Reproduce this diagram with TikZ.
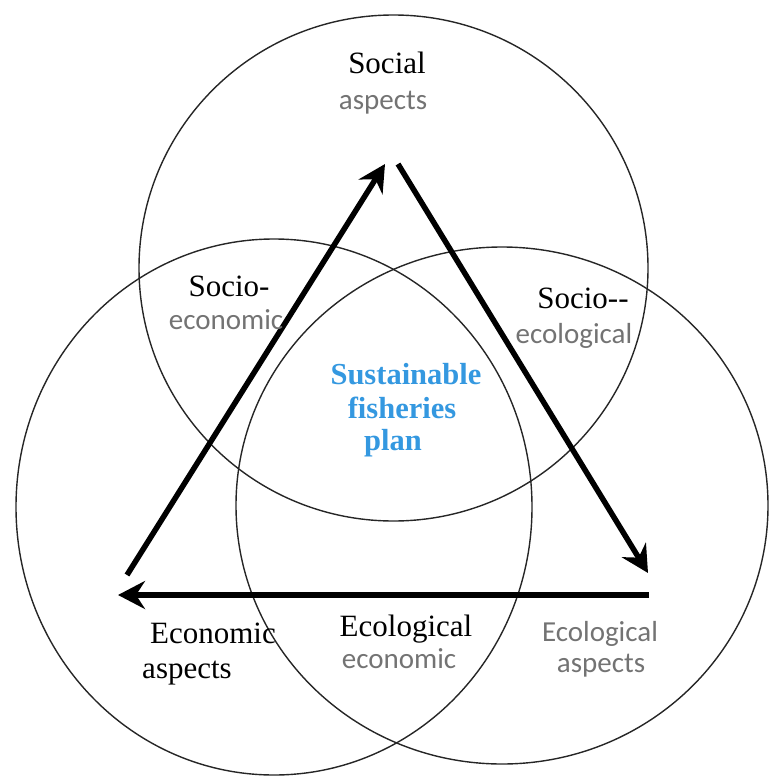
\documentclass[tikz,border=0pt]{standalone}
\usepackage{fontspec}
\setmainfont{Liberation Serif}
\newfontfamily\greyfont{Carlito}
\usetikzlibrary{arrows.meta}
\definecolor{planblue}{RGB}{52,152,224}
\definecolor{labelgrey}{RGB}{115,115,115}
\tikzset{
  ring/.style={draw=black!85, line width=1.4pt},
  flow/.style={line width=5.5pt, -{Stealth[length=27pt,width=28pt,inset=9pt]}},
  mainlabel/.style={anchor=base, inner sep=0pt, font=\fontsize{31}{36}\selectfont},
  sublabel/.style={anchor=base, inner sep=0pt, text=labelgrey, font=\greyfont\fontsize{29}{34}\selectfont},
  planlabel/.style={anchor=base, inner sep=0pt, text=planblue, font=\bfseries\fontsize{30.5}{35}\selectfont}
}
\begin{document}
\begin{tikzpicture}[x=1pt,y=-1pt]
  \useasboundingbox (0,0) rectangle (769,776);
  % the three aspects
  \path[ring] (393.5,268) ellipse [x radius=254.5, y radius=253];
  \path[ring] (274,507) ellipse [x radius=258, y radius=268];
  \path[ring] (502,505.5) ellipse [x radius=266, y radius=258.5];

  % corners of the triangle
  \coordinate (econStart) at (127,575);
  \coordinate (socialIn) at (385,164);
  \coordinate (socialOut) at (398,164);
  \coordinate (ecolIn) at (648,573);
  \coordinate (ecolOut) at (649,595);
  \coordinate (econIn) at (118,595);

  \draw[flow] (econStart) -- (socialIn);
  \draw[flow] (socialOut) -- (ecolIn);
  \draw[flow] (ecolOut) -- (econIn);

  % labels
  \path (387,74) node[mainlabel] (social) {Social};
  \path (383,109) node[sublabel] (socialAsp) {aspects};
  \path (229,296) node[mainlabel] (socioEcon) {Socio-};
  \path (226,329) node[sublabel] (socioEconB) {economic};
  \path (583,308) node[mainlabel] (socioEcol) {Socio-{}-};
  \path (574,343) node[sublabel] (socioEcolB) {ecological};
  \path (406,384) node[planlabel] (planA) {Sustainable};
  \path (402,418) node[planlabel] (planB) {fisheries};
  \path (393,450) node[planlabel] (planC) {plan};
  \path (213,643) node[mainlabel] (econ) {Economic};
  \path (187,678) node[mainlabel] (econAsp) {aspects};
  \path (406,636) node[mainlabel] (ecolEcon) {Ecological};
  \path (399,668) node[sublabel] (ecolEconB) {economic};
  \path (600,641) node[sublabel] (ecol) {Ecological};
  \path (601,672) node[sublabel] (ecolAsp) {aspects};
\end{tikzpicture}
\end{document}
